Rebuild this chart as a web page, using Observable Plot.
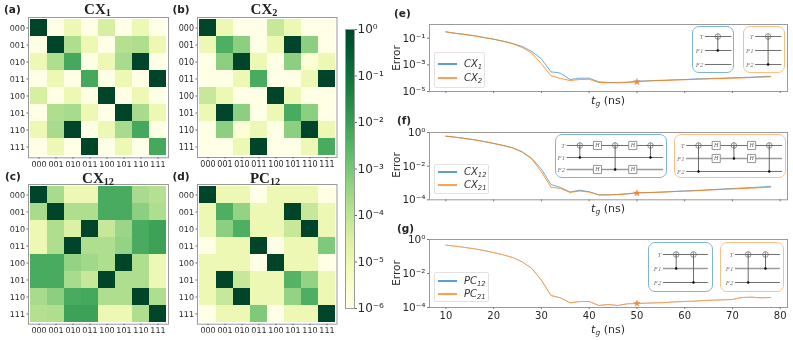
<!DOCTYPE html>
<html>
<head>
<meta charset="utf-8">
<script src="https://cdn.jsdelivr.net/npm/d3@7"></script>
<script src="https://cdn.jsdelivr.net/npm/@observablehq/plot@0.6"></script>
<style>
html,body{margin:0;padding:0;background:#fff;overflow:hidden}
#root{position:relative;width:793px;height:340px;font-family:"DejaVu Sans",sans-serif;color:#2a2a2a;filter:blur(.3px)}
#root svg{background:transparent;max-width:none}
.abs{position:absolute;white-space:nowrap;line-height:1}
.abs sub{font-size:.68em;vertical-align:-0.28em;line-height:0}
</style>
</head>
<body>
<div id="root"></div>
<script>
// ---------- heat-map data (log10 of each entry) ----------
const states = ["000","001","010","011","100","101","110","111"];
const cx1Rows = [
 [0,-6,-5,-6,-4.5,-6,-5,-6],
 [-6,0,-3.8,-5,-6,-3.9,-3.8,-5],
 [-5,-3.8,-2.25,-6,-5,-3.7,0,-6],
 [-6,-5,-6,-2.25,-6,-5,-6,0],
 [-4.5,-6,-5,-6,0,-6,-5,-6],
 [-6,-3.8,-3.7,-5,-6,0,-3.7,-5],
 [-5,-3.7,0,-6,-5,-3.7,-2.25,-6],
 [-6,-5,-6,0,-6,-5,-6,-2.25]
];
const cx2Rows = [
 [0,-5,-6,-6,-4.2,-5,-6,-6],
 [-5,-2.4,-3.3,-6,-5,0,-3.3,-6],
 [-6,-3.3,0,-5,-6,-3.3,-5.7,-5],
 [-6,-6,-5,-2.3,-6,-6,-5,0],
 [-4.2,-5,-6,-6,0,-5,-6,-6],
 [-5,0,-3.3,-6,-5,-2.3,-3.3,-6],
 [-6,-3.3,-5.7,-5,-6,-3.3,0,-5],
 [-6,-6,-5,0,-6,-6,-5,-2.3]
];
const cx12Rows = [
 [0,-3.7,-5,-5,-2.3,-2.3,-3.7,-3.9],
 [-3.7,0,-3.8,-3.8,-2.3,-2.3,-3.3,-3.8],
 [-5,-3.8,-4.6,0,-4.2,-3.5,-2.3,-2.1],
 [-5,-3.8,0,-3.8,-3.8,-3.4,-2.3,-2.1],
 [-2.3,-2.3,-3.4,-3.6,-3.8,0,-3.8,-5],
 [-2.3,-2.3,-3.7,-4.2,0,-3.8,-3.8,-5],
 [-3.7,-3.3,-2.3,-2.25,-3.8,-3.8,0,-3.8],
 [-3.9,-3.8,-2.1,-2.1,-5,-5,-3.8,0]
];
const pc12Rows = [
 [0,-5,-5,-6,-5,-5,-5,-6],
 [-5,-2.4,-3.4,-5,-5,0,-4.2,-5],
 [-5,-3.3,-2.4,-5,-5,-4.2,0,-5],
 [-6,-5,-5,0,-6,-5,-5,-3.1],
 [-5,-5,-5,-6,0,-5,-5,-6],
 [-5,0,-4.2,-5,-5,-2.5,-3.4,-5],
 [-5,-4.2,0,-5,-5,-3.4,-2.4,-5],
 [-6,-5,-5,-3.1,-6,-5,-5,0]
];
// ---------- error curves (log10 of error) ----------
const tg = [10,12,14,16,18,20,22,24,26,28,30,32,34,36,38,40,42,44,46,48,50,52,54,56,58,60,62,64,66,68,70,72,74,76,78];
const cx1Err = [-.525,-.63,-.72,-.82,-.95,-1.07,-1.22,-1.4,-1.62,-2.0,-2.55,-3.52,-3.62,-4.1,-4.0,-4.0,-4.27,-4.32,-4.32,-4.3,-4.22,-4.2,-4.17,-4.15,-4.12,-4.1,-4.06,-4.04,-4.02,-4.0,-3.97,-3.95,-3.92,-3.89,-3.85];
const cx2Err = [-.525,-.63,-.72,-.82,-.95,-1.08,-1.23,-1.42,-1.7,-2.12,-2.92,-3.82,-4.02,-4.18,-4.1,-4.08,-4.32,-4.35,-4.35,-4.32,-4.28,-4.22,-4.19,-4.17,-4.14,-4.12,-4.09,-4.07,-4.04,-4.02,-4.0,-3.98,-3.95,-3.92,-3.9];
const cx12Err = [-.22,-.28,-.355,-.435,-.535,-.65,-.77,-.91,-1.15,-1.54,-2.18,-3.09,-3.27,-3.54,-3.43,-3.52,-3.7,-3.7,-3.68,-3.64,-3.58,-3.57,-3.55,-3.53,-3.5,-3.47,-3.45,-3.42,-3.39,-3.36,-3.33,-3.3,-3.27,-3.24,-3.2];
const cx21Err = [-.22,-.28,-.355,-.435,-.535,-.65,-.77,-.92,-1.17,-1.58,-2.34,-3.25,-3.33,-3.56,-3.48,-3.54,-3.72,-3.71,-3.69,-3.65,-3.6,-3.58,-3.56,-3.54,-3.51,-3.49,-3.47,-3.44,-3.41,-3.38,-3.36,-3.33,-3.31,-3.28,-3.25];
const pc12Err = [-.333,-.392,-.47,-.549,-.647,-.765,-.902,-1.059,-1.314,-1.706,-2.392,-3.294,-3.431,-3.725,-3.647,-3.647,-3.882,-3.824,-3.882,-3.784,-3.765,-3.745,-3.725,-3.706,-3.667,-3.647,-3.627,-3.588,-3.569,-3.549,-3.529,-3.412,-3.392,-3.431,-3.412];
const pc21Err = pc12Err;
const xTicks = [10,20,30,40,50,60,70,80];
const barTicks = [-6,-5,-4,-3,-2,-1,0];
const barStops = d3.range(-6,0,0.04);
// ---------- circuits ----------
const cirCx1  = {cnots:[[0,"F1"]], hs:[], wire:[-.74,.78]};
const cirCx2  = {cnots:[[0,"F2"]], hs:[], wire:[-.74,.76]};
const cirCx12 = {cnots:[[0,"F1"],[2,"F2"],[4,"F1"]], hs:[[1,"T"],[1,"F2"],[3,"T"],[3,"F2"]], wire:[-.75,4.72]};
const cirCx21 = {cnots:[[0,"F2"],[2,"F1"],[4,"F2"]], hs:[[1,"T"],[1,"F1"],[3,"T"],[3,"F1"]], wire:[-.7,4.72]};
const cirPc12 = {cnots:[[0,"F1"],[1,"F2"]], hs:[], wire:[-.77,1.83]};
const cirPc21 = {cnots:[[0,"F2"],[1,"F1"]], hs:[], wire:[-.77,1.83]};

const BLUE="#1f77b4", ORANGE="#ff7f0e", BOXB="#7fb4da", BOXO="#fdbf85", FRAME="#9a9a9a", INK="#2a2a2a";
const root=document.getElementById("root");
const sup=e=>"10"+String(e).replace(/-/g,"\u207b").replace(/\d/g,d=>"\u2070\u00b9\u00b2\u00b3\u2074\u2075\u2076\u2077\u2078\u2079"[d]);

function place(node,left,top){
  const w=document.createElement("div");
  w.style.cssText=`position:absolute;left:${left}px;top:${top}px`;
  w.appendChild(node);root.appendChild(w);return w;
}
function label(html,x,y,css,anchor="center"){
  const d=document.createElement("div");d.className="abs";d.innerHTML=html;
  const tx=anchor==="center"?"-50%":"0";
  d.style.cssText=`left:${x}px;top:${y}px;transform:translate(${tx},-50%);${css}`;
  root.appendChild(d);return d;
}
const colorScale={type:"log",scheme:"YlGn",domain:[1e-6,1]};

function heat(rows,left,top,w,h,titleHtml,titleX,titleY,tag,tagX,tagY){
  const data=rows.flatMap((r,i)=>r.map((v,j)=>({row:states[i],col:states[j],v:Math.pow(10,v)})));
  const pad={l:28,b:16,t:2,r:2};
  const p=Plot.plot({
    width:w+pad.l+pad.r,height:h+pad.t+pad.b,
    marginLeft:pad.l,marginRight:pad.r,marginTop:pad.t,marginBottom:pad.b,
    style:{fontFamily:"DejaVu Sans",background:"transparent"},
    x:{type:"band",domain:states,padding:0,label:null,axis:null},
    y:{type:"band",domain:states,padding:0,label:null,axis:null},
    color:colorScale,
    marks:[
      Plot.cell(data,{x:"col",y:"row",fill:"v",inset:0}),
      Plot.frame({stroke:FRAME,strokeWidth:1}),
      Plot.axisX({domain:states,anchor:"bottom",tickSize:1.5,tickPadding:2,fontSize:8,stroke:"#666",fill:INK,label:null}),
      Plot.axisY({domain:states,anchor:"left",tickSize:1.5,tickPadding:2,fontSize:8,stroke:"#666",fill:INK,label:null})
    ]
  });
  place(p,left-pad.l,top-pad.t);
  label(titleHtml,titleX,titleY,'font-family:"Liberation Serif",serif;font-weight:bold;font-size:15px;color:#222');
  label(tag,tagX,tagY,'font-weight:bold;font-size:10.5px;color:#222',"left");
}
const T=(a,b)=>`${a}<sub>${b}</sub>`;
heat(cx1Rows,28,16.7,140,140.3,T("CX","1"),97.5,9,"(a)",4,9);
heat(cx2Rows,196.7,17,139.5,140,T("CX","2"),264,9,"(b)",172.5,9);
heat(cx12Rows,28,184.3,140,139.7,T("CX","12"),98,177.5,"(c)",5,176);
heat(pc12Rows,196.7,184.3,139.5,139.7,T("PC","12"),265,177.5,"(d)",172.5,176);

// colour bar
{
  const stops=barStops.map(e=>({a:Math.pow(10,e),b:Math.pow(10,e+0.045)}));
  const p=Plot.plot({
    width:60,height:299,marginLeft:2,marginRight:49,marginTop:10,marginBottom:10,
    style:{fontFamily:"DejaVu Sans",background:"transparent"},
    x:{domain:[0,1],axis:null},
    y:{type:"log",domain:[1e-6,1],axis:null},
    color:colorScale,
    marks:[
      Plot.rect(stops,{x1:0,x2:1,y1:"a",y2:"b",fill:"a",inset:0,shapeRendering:"crispEdges"}),
      Plot.frame({stroke:FRAME,strokeWidth:1}),
      Plot.axisY({ticks:barTicks.map(e=>Math.pow(10,e)),anchor:"right",tickSize:2,tickPadding:1,fontSize:12,fill:INK,stroke:"#666",label:null,
        tickFormat:v=>sup(Math.round(Math.log10(v)))})
    ]
  });
  place(p,342.7,19.3);
}

// error panels
function errPanel(top,h,yDomain,yTicks,showX,s1,s2,names,legend,xlabY,tag,tagPos,insets,opaque){
  const pts=(arr,name)=>arr.map((e,i)=>({t:tg[i],v:Math.pow(10,e),name}));
  const mL=40,mR=4,mT=9,mB=16;
  const W=358;
  const starIdx=tg.indexOf(50);
  const p=Plot.plot({
    width:W+mL+mR,height:h+mT+mB,marginLeft:mL,marginRight:mR,marginTop:mT,marginBottom:mB,
    style:{fontFamily:"DejaVu Sans",background:"transparent"},
    x:{domain:[6.57,81.53],axis:null},
    y:{type:"log",domain:yDomain,axis:null},
    marks:[
      Plot.frame({stroke:FRAME,strokeWidth:1}),
      Plot.axisX({ticks:xTicks,anchor:"bottom",tickSize:2,tickPadding:2,fontSize:10,fill:INK,stroke:"#777",label:null,tickFormat:showX?(d=>String(d)):(()=>"")}),
      Plot.axisY({ticks:yTicks.map(e=>Math.pow(10,e)),anchor:"left",tickSize:2,tickPadding:2,fontSize:10.5,fill:INK,stroke:"#777",label:null,
        tickFormat:v=>sup(Math.round(Math.log10(v)))}),
      Plot.line(pts(s1,names[0]),{x:"t",y:"v",stroke:BLUE,strokeWidth:opaque?.5:.9,strokeOpacity:.7}),
      Plot.line(pts(s2,names[1]),{x:"t",y:"v",stroke:opaque?"#fd9f52":ORANGE,strokeWidth:1,strokeOpacity:opaque?1:.8}),
      Plot.dot([{t:50,v:Math.pow(10,s2[starIdx])}],{x:"t",y:"v",symbol:"star",r:2.1,fill:"#f0853a",stroke:"#f0853a",strokeWidth:.4})
    ]
  });
  place(p,429.3-mL,top-mT);
  label("Error",396,top+h/2,'font-size:10.5px;transform:translate(-50%,-50%) rotate(-90deg);color:#2a2a2a');
  label(`<i>t<sub>g</sub></i> (ns)`,608,xlabY,'font-size:11px;color:#2a2a2a');
  label(tag,tagPos[0],tagPos[1],'font-weight:bold;font-size:10.5px;color:#222',"left");
  // legend
  const L=document.createElement("div");
  L.style.cssText=`position:absolute;left:${legend.x}px;top:${legend.y}px;width:${legend.w}px;height:${legend.h}px;border:1px solid #e2e2e2;border-radius:2px;background:rgba(255,255,255,.85);box-sizing:border-box`;
  root.appendChild(L);
  [[names[0],"#5f9fd0",legend.l1],[names[1],"#fba25a",legend.l2]].forEach(([n,c,y])=>{
    const ln=document.createElement("div");
    ln.style.cssText=`position:absolute;left:438px;top:${Math.round(y)-1}px;width:19px;height:1.5px;background:${c}`;
    root.appendChild(ln);
    label(n,464,y,'font-family:"DejaVu Sans";font-style:italic;font-size:10px;color:#333',"left");
  });
  insets.forEach(circuit);
}

function circuit(c){
  const wires=["T","F1","F2"];
  const cn=c.def.cnots, hs=c.def.hs, wr=c.def.wire;
  const soft=c.soft||[];
  const plot=Plot.plot({
    width:c.w,height:c.h,marginLeft:0,marginRight:0,marginTop:0,marginBottom:0,
    style:{background:"transparent",fontFamily:"Liberation Serif"},
    x:{domain:[0,1],range:[c.gx,c.gx+c.unit],axis:null},
    y:{type:"point",domain:wires,range:c.ys,padding:0,axis:null},
    marks:[
      Plot.link(wires,{x1:wr[0],x2:wr[1],y1:d=>d,y2:d=>d,
        stroke:d=>soft.includes(d)?"#9a9a9a":"#4a4a4a",strokeWidth:d=>soft.includes(d)?1.5:.8}),
      Plot.link(cn,{x1:d=>d[0],x2:d=>d[0],y1:()=>"T",y2:d=>d[1],stroke:"#5a5a5a",strokeWidth:.9}),
      Plot.dot(cn,{x:d=>d[0],y:()=>"T",r:2.8,stroke:"#666",strokeWidth:.7,fill:"none"}),
      Plot.dot(cn,{x:d=>d[0],y:()=>"T",symbol:"plus",r:2.2,stroke:"#666",strokeWidth:.6}),
      Plot.dot(cn,{x:d=>d[0],y:d=>d[1],r:1.2,fill:"#000"}),
      Plot.dot(hs,{x:d=>d[0],y:d=>d[1],symbol:"square",r:4.6,fill:"#fff",stroke:"#8a8a8a",strokeWidth:.9}),
      Plot.text(hs,{x:d=>d[0],y:d=>d[1],text:()=>"H",fontSize:6,fontStyle:"italic",fill:"#666",fontFamily:"Liberation Serif"}),
      Plot.text(wires,{x:()=>wr[0],y:d=>d,text:d=>d,dx:-1.5,textAnchor:"end",fontSize:6.8,fontStyle:"italic",fill:"#777",fontFamily:"Liberation Serif"})
    ]
  });
  const box=document.createElement("div");
  box.style.cssText=`position:absolute;left:${c.x}px;top:${c.y}px;width:${c.w}px;height:${c.h}px;border:1px solid ${c.color};border-radius:7px;box-sizing:border-box;background:#fff`;
  root.appendChild(box);
  place(plot,c.x,c.y);
}

errPanel(24,67,[1e-5,1.07],[-5,-3,-1],false,cx1Err,cx2Err,[T("CX","1"),T("CX","2")],
  {x:434.3,y:52.3,w:51,h:35.4,l1:64.3,l2:78},100,"(e)",[394,13],[
  {def:cirCx1,x:691.7,y:26.3,w:42.6,h:47,color:BOXB,gx:25.3,unit:17.5,ys:[9.4,37.7]},
  {def:cirCx2,x:742.7,y:26.3,w:42.3,h:47,color:BOXO,gx:24.6,unit:17.5,ys:[9.4,37.7]}
],false);
errPanel(131.7,67.3,[1e-4,1],[-4,-2,0],false,cx12Err,cx21Err,[T("CX","12"),T("CX","21")],
  {x:434.3,y:164,w:55,h:30.3,l1:172.3,l2:185},208,"(f)",[397,120],[
  {def:cirCx12,x:555,y:134,w:112.3,h:44.3,color:BOXB,gx:24.3,unit:17.67,ys:[10,35.3],soft:["F2"]},
  {def:cirCx21,x:674.3,y:134,w:111.4,h:44.3,color:BOXO,gx:24,unit:17.7,ys:[10.7,37],soft:["F1"]}
],false);
errPanel(239.3,68,[1e-4,1],[-4,-2,0],true,pc12Err,pc21Err,[T("PC","12"),T("PC","21")],
  {x:434.3,y:272,w:55,h:30.3,l1:281,l2:293.7},329,"(g)",[397,228],[
  {def:cirPc12,x:648.3,y:242.3,w:64.4,h:50,color:BOXB,gx:27.7,unit:17.3,ys:[11,40],soft:["F1"]},
  {def:cirPc21,x:720,y:242.3,w:64.3,h:50,color:BOXO,gx:27.7,unit:17.3,ys:[11,40],soft:["F1"]}
],true);
</script>
</body>
</html>
